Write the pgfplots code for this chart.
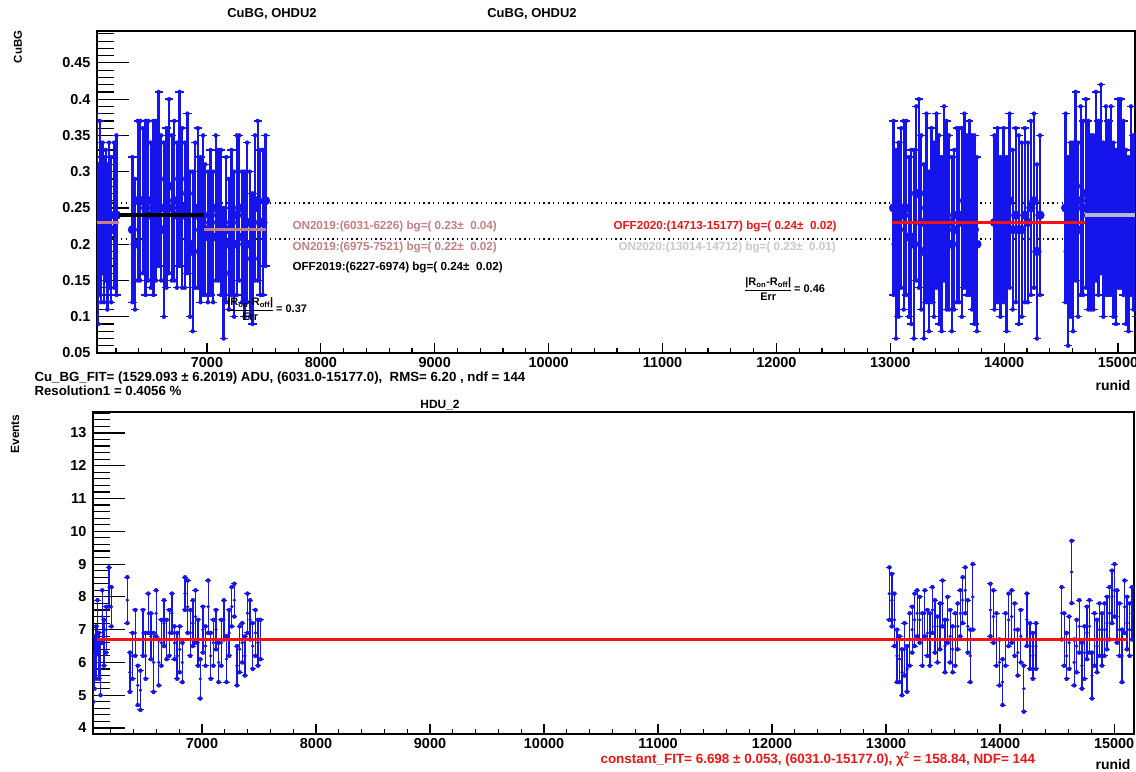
\documentclass[border=0pt]{standalone}
\usepackage{fontspec}
\setmainfont{Liberation Sans}
\usepackage{amsmath}
\usepackage{pgfplots}
\usepackage{pgfplotstable}
\pgfplotsset{compat=1.18}

\definecolor{rootblue}{RGB}{20,20,235}
\definecolor{onrose}{RGB}{196,128,128}
\definecolor{ongray}{RGB}{200,200,200}
\definecolor{fitred}{RGB}{240,20,20}
\definecolor{offgray}{RGB}{180,186,210}

\newcommand\fs[1]{\fontsize{#1}{#1}\selectfont\bfseries}
\newcommand\ronoff{|R\textsubscript{on}-R\textsubscript{off}|}

% run, Cu background rate (with error), events per run (with error)
\pgfplotstableread{
run cu cuerr ev everr
6033 0.26 0.12 7.4 0.8
6045 0.20 0.11 5.5 0.7
6058 0.25 0.12 6.0 0.8
6070 0.22 0.10 6.3 0.8
6083 0.25 0.09 7.1 0.8
6096 0.22 0.10 6.2 0.7
6110 0.24 0.09 5.8 0.8
6125 0.21 0.10 7.4 0.8
6140 0.24 0.10 6.6 0.7
6160 0.22 0.10 7.0 0.7
6185 0.24 0.10 8.3 0.6
6205 0.24 0.11 7.7 0.6
6345 0.22 0.10 7.9 0.7
6368 0.20 0.09 5.7 0.6
6391 0.26 0.11 6.2 0.7
6414 0.26 0.11 6.9 0.7
6437 0.26 0.10 5.3 0.6
6460 0.25 0.12 5.15 0.6
6483 0.26 0.11 6.9 0.7
6506 0.24 0.10 6.2 0.7
6529 0.25 0.12 7.5 0.6
6552 0.26 0.11 6.8 0.7
6575 0.29 0.12 6.0 0.9
6598 0.25 0.10 7.5 0.7
6621 0.22 0.12 6.0 0.7
6644 0.25 0.11 6.6 0.7
6667 0.28 0.12 7.2 0.7
6690 0.25 0.10 6.7 0.6
6713 0.26 0.11 6.9 0.7
6736 0.24 0.10 7.5 0.6
6759 0.29 0.12 6.6 0.5
6782 0.25 0.11 6.2 0.7
6805 0.24 0.10 6.4 0.7
6828 0.27 0.11 6.0 0.6
6851 0.20 0.10 8.1 0.5
6874 0.19 0.11 7.7 0.8
6897 0.24 0.10 6.9 0.7
6920 0.25 0.11 7.2 0.7
6943 0.22 0.10 7.4 0.8
6966 0.24 0.11 6.6 0.7
6985 0.22 0.09 5.5 0.6
7008 0.21 0.09 7.0 0.7
7031 0.23 0.10 6.5 0.6
7054 0.21 0.09 7.7 0.8
7077 0.25 0.10 6.2 0.7
7100 0.24 0.09 6.6 0.7
7123 0.23 0.10 7.0 0.6
7146 0.16 0.09 6.0 0.6
7169 0.22 0.10 6.6 0.7
7192 0.20 0.09 7.3 0.6
7215 0.23 0.10 6.1 0.7
7238 0.20 0.10 6.9 0.7
7261 0.24 0.11 7.7 0.6
7284 0.25 0.10 7.9 0.5
7307 0.21 0.09 5.9 0.6
7330 0.20 0.10 6.4 0.7
7353 0.23 0.11 6.6 0.6
7376 0.20 0.10 6.2 0.6
7399 0.18 0.09 7.5 0.6
7422 0.25 0.10 7.3 0.6
7445 0.26 0.11 6.5 0.7
7468 0.23 0.10 6.9 0.7
7491 0.23 0.10 6.6 0.7
7514 0.26 0.09 6.7 0.6
13029 0.25 0.12 8.1 0.8
13051 0.20 0.13 7.9 0.8
13073 0.22 0.12 7.3 0.8
13096 0.25 0.11 6.2 0.8
13118 0.24 0.13 6.1 0.7
13140 0.25 0.12 5.7 0.7
13162 0.21 0.11 6.4 0.8
13184 0.21 0.12 5.8 0.7
13207 0.20 0.13 6.7 0.8
13229 0.27 0.12 7.0 0.7
13251 0.27 0.13 7.3 0.8
13273 0.23 0.12 7.5 0.7
13295 0.19 0.12 7.3 0.7
13318 0.25 0.13 6.7 0.8
13340 0.19 0.11 7.5 0.7
13362 0.24 0.12 6.9 0.7
13384 0.22 0.12 6.7 0.8
13406 0.26 0.12 7.6 0.7
13429 0.22 0.13 7.1 0.8
13451 0.20 0.12 6.7 0.7
13473 0.27 0.12 7.1 0.7
13495 0.24 0.13 7.8 0.7
13517 0.23 0.12 6.5 0.8
13540 0.20 0.12 7.3 0.7
13562 0.22 0.11 6.8 0.8
13584 0.24 0.12 6.4 0.7
13606 0.24 0.12 6.7 0.8
13628 0.23 0.13 7.1 0.7
13651 0.26 0.12 7.5 0.7
13673 0.24 0.11 7.9 0.7
13695 0.25 0.12 8.2 0.7
13717 0.23 0.12 7.1 0.8
13739 0.22 0.13 6.2 0.8
13761 0.20 0.12 8.0 1.0
13915 0.23 0.12 7.6 0.8
13942 0.24 0.12 7.4 0.8
13968 0.21 0.11 6.7 0.8
13995 0.24 0.12 6.0 0.7
14022 0.20 0.12 5.4 0.7
14048 0.26 0.12 6.7 0.8
14075 0.22 0.11 7.3 0.8
14102 0.24 0.12 7.4 0.8
14128 0.22 0.13 7.0 0.8
14155 0.22 0.12 6.3 0.7
14182 0.24 0.12 6.8 0.8
14208 0.23 0.11 5.2 0.7
14235 0.25 0.12 7.3 0.8
14262 0.26 0.12 6.5 0.7
14288 0.19 0.12 6.2 0.7
14315 0.24 0.11 6.5 0.7
14540 0.25 0.13 7.5 0.8
14562 0.19 0.13 6.7 0.8
14584 0.22 0.12 6.2 0.7
14606 0.21 0.13 6.6 0.8
14628 0.28 0.13 8.76 0.95
14650 0.22 0.12 6.0 0.7
14672 0.26 0.13 6.5 0.8
14694 0.25 0.12 7.1 0.8
14718 0.27 0.13 5.9 0.7
14740 0.24 0.13 6.3 0.8
14762 0.23 0.12 6.9 0.8
14784 0.23 0.12 7.1 0.8
14806 0.28 0.13 5.6 0.7
14828 0.25 0.12 6.7 0.8
14850 0.29 0.13 6.5 0.8
14872 0.22 0.12 7.0 0.8
14894 0.26 0.13 6.7 0.8
14916 0.25 0.12 7.0 0.8
14938 0.26 0.13 7.2 0.8
14960 0.22 0.12 7.5 0.8
14982 0.21 0.12 8.0 0.8
15004 0.27 0.13 8.2 0.8
15026 0.27 0.13 7.4 0.8
15048 0.25 0.12 7.0 0.8
15070 0.21 0.12 6.2 0.8
15092 0.20 0.12 7.7 0.8
15114 0.26 0.13 7.2 0.8
15136 0.23 0.12 7.0 0.8
15158 0.22 0.12 7.5 0.8
}\runs

\pgfplotsset{
  rootframe/.style={
    scale only axis,
    height=322bp,
    axis line style={line width=1.5bp},
    tick align=inside,
    xtick pos=bottom, ytick pos=left,
    tick style={black, line width=1.2bp},
    major tick length=10bp, minor tick length=5bp,
    ytick style={/pgfplots/major tick length=32bp, /pgfplots/minor tick length=17bp},
    ticklabel style={font=\fs{14.5}},
    yticklabel style={xshift=-3bp},
    xticklabel style={yshift=-1bp},
    scaled x ticks=false,
    /pgf/number format/assume math mode=true,
    /pgf/number format/1000 sep={},
    xtick={7000,8000,...,15000},
    minor xtick={6200,6400,...,15000},
    clip=true, clip marker paths=true,
  },
  % error bar ends: short horizontal strokes of fixed width in run units
  caps/.style 2 args={rootblue, only marks, mark=none,
    error bars/.cd, x dir=both, x fixed=#1, error mark=none,
    error bar style={draw=rootblue, line width=#2}},
}

\begin{document}
\begin{tikzpicture}
\useasboundingbox (0,0) rectangle (1136bp,772bp);

% upper panel: Cu background per run
\begin{axis}[rootframe,
  at={(97bp,419bp)}, anchor=south west, width=1038bp,
  xmin=6034, xmax=15149, ymin=0.05, ymax=0.494,
  ytick={0.05,0.1,0.15,0.2,0.25,0.3,0.35,0.4,0.45},
  yticklabels={0.05,0.1,0.15,0.2,0.25,0.3,0.35,0.4,0.45},
  minor ytick={0.06,0.07,...,0.495},
]
\addplot[black, line width=1.3bp, dash pattern=on 1.3bp off 3.5bp] coordinates {(6034,0.257) (15149,0.257)};
\addplot[black, line width=1.3bp, dash pattern=on 1.3bp off 3.5bp] coordinates {(6034,0.207) (15149,0.207)};
\addplot[color=rootblue, only marks, mark=*, mark size=4.4bp,
  mark options={fill=rootblue, draw=rootblue},
  error bars/.cd, y dir=both, y explicit, error mark=none,
  error bar style={color=rootblue, line width=2.3bp}]
  table[x=run, y=cu, y error=cuerr] {\runs};
\addplot[caps={36}{1.4bp}] table[x=run, y expr=\thisrow{cu}+\thisrow{cuerr}] {\runs};
\addplot[caps={36}{1.4bp}] table[x=run, y expr=\thisrow{cu}-\thisrow{cuerr}] {\runs};
\addplot[onrose, line width=3.5bp] coordinates {(6034,0.23) (6226,0.23)};
\addplot[black, line width=4bp] coordinates {(6227,0.24) (6974,0.24)};
\addplot[onrose, line width=3.5bp] coordinates {(6975,0.22) (7521,0.22)};
\addplot[fitred, line width=3.5bp] coordinates {(13014,0.23) (14712,0.23)};
\addplot[offgray, line width=3.5bp] coordinates {(14713,0.24) (15177,0.24)};
\end{axis}

% lower panel: events per run
\begin{axis}[rootframe,
  at={(93bp,38bp)}, anchor=south west, width=1041bp,
  xmin=6044, xmax=15175, ymin=3.817, ymax=13.64,
  ytick={4,5,...,13},
  minor ytick={4.2,4.4,...,13.6},
]
\addplot[color=rootblue, only marks, mark=*, mark size=1.5bp,
  mark options={fill=rootblue, draw=rootblue},
  error bars/.cd, y dir=both, y explicit, error mark=none,
  error bar style={color=rootblue, line width=1.3bp}]
  table[x=run, y=ev, y error=everr] {\runs};
\addplot[caps={27}{1bp}] table[x=run, y expr=\thisrow{ev}+\thisrow{everr}] {\runs};
\addplot[caps={27}{1bp}] table[x=run, y expr=\thisrow{ev}-\thisrow{everr}] {\runs};
\addplot[fitred, line width=3.5bp] coordinates {(6080,6.698) (15120,6.698)};
\end{axis}

% titles and axis names
\node[font=\fs{13}] at (272bp,758bp) {CuBG, OHDU2};
\node[font=\fs{13}] at (532bp,758bp) {CuBG, OHDU2};
\node[font=\fs{11.5}, rotate=90] at (18bp,725bp) {CuBG};
\node[font=\fs{14}, anchor=east] at (1134bp,386bp) {runid};
\node[font=\fs{13.3}, anchor=west] at (31bp,394bp)
  {Cu\_BG\_FIT= (1529.093 ± 6.2019) ADU, (6031.0-15177.0),\ \ RMS= 6.20 , ndf = 144};
\node[font=\fs{13.3}, anchor=west] at (31bp,381bp) {Resolution1 = 0.4056 \%};
\node[font=\fs{12}] at (440bp,367bp) {HDU\_2};
\node[font=\fs{12}, rotate=90] at (15bp,338bp) {Events};
\node[font=\fs{14}, anchor=east] at (1134bp,7bp) {runid};
\node[font=\fs{13.5}, text=fitred, anchor=west] at (597bp,12.5bp)
  {constant\_FIT= 6.698 ± 0.053, (6031.0-15177.0), χ\textsuperscript{2} = 158.84, NDF= 144};

% fit summaries
\node[font=\fs{11.7}, text=onrose, anchor=west] at (289bp,545bp) {ON2019:(6031-6226) bg=( 0.23±\ \ 0.04)};
\node[font=\fs{11.7}, text=onrose, anchor=west] at (289bp,524bp) {ON2019:(6975-7521) bg=( 0.22±\ \ 0.02)};
\node[font=\fs{11.7}, text=black, anchor=west] at (289bp,504bp) {OFF2019:(6227-6974) bg=( 0.24±\ \ 0.02)};
\node[font=\fs{11.7}, text=fitred, anchor=west] at (610bp,545bp) {OFF2020:(14713-15177) bg=( 0.24±\ \ 0.02)};
\node[font=\fs{11.7}, text=ongray, anchor=west] at (615bp,524bp) {ON2020:(13014-14712) bg=( 0.23±\ \ 0.01)};

\node[font=\fs{11}, anchor=west, inner sep=0pt] at (226bp,463bp)
  {$\dfrac{\text{\ronoff}}{\text{Err}}$\,= 0.37};
\node[font=\fs{11}, anchor=west, inner sep=0pt] at (744bp,483bp)
  {$\dfrac{\text{\ronoff}}{\text{Err}}$\,= 0.46};
\end{tikzpicture}
\end{document}
